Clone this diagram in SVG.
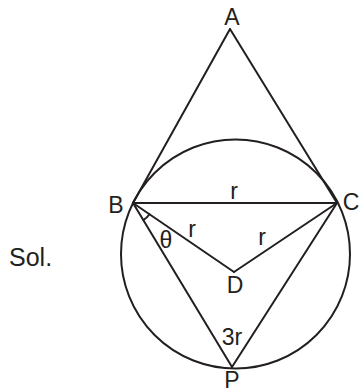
<svg xmlns="http://www.w3.org/2000/svg" width="360" height="390" viewBox="0 0 360 390">
<style>
.ln{stroke:#231f20;stroke-width:2;fill:none;stroke-linecap:round;stroke-linejoin:round}
.t{font-family:"Liberation Sans",Arial,sans-serif;font-size:23px;fill:#231f20}
</style>
<rect width="360" height="390" fill="#fff"/>
<g id="circle"><circle class="ln" cx="235.5" cy="254" r="114.5"/></g>
<g id="connectors">
<line class="ln" x1="230" y1="29" x2="133" y2="203"/>
<line class="ln" x1="230" y1="29" x2="337" y2="203"/>
<line class="ln" x1="133" y1="203" x2="337" y2="203"/>
<line class="ln" x1="133" y1="203" x2="234" y2="272"/>
<line class="ln" x1="234" y1="272" x2="337" y2="203"/>
<line class="ln" x1="133" y1="203" x2="232" y2="367"/>
<line class="ln" x1="232" y1="367" x2="337" y2="203"/>
<path class="ln" d="M149.5,214.3 A20,20 0 0 1 143.3,220.1"/>
</g>
<g id="A"><text class="t" x="232" y="25" text-anchor="middle">A</text></g>
<g id="B"><text class="t" x="116" y="213" text-anchor="middle">B</text></g>
<g id="C"><text class="t" x="351" y="210" text-anchor="middle">C</text></g>
<g id="D"><text class="t" x="235" y="293" text-anchor="middle">D</text></g>
<g id="P"><text class="t" x="232" y="388" text-anchor="middle">P</text></g>
<g id="labels">
<text class="t" x="234" y="199" text-anchor="middle">r</text>
<text class="t" x="192" y="237" text-anchor="middle">r</text>
<text class="t" x="262" y="245" text-anchor="middle">r</text>
<text class="t" x="166" y="248" text-anchor="middle">θ</text>
<text class="t" x="232" y="345" text-anchor="middle">3r</text>
<text class="t" style="font-size:25px" x="9" y="266">Sol.</text>
</g>
</svg>
